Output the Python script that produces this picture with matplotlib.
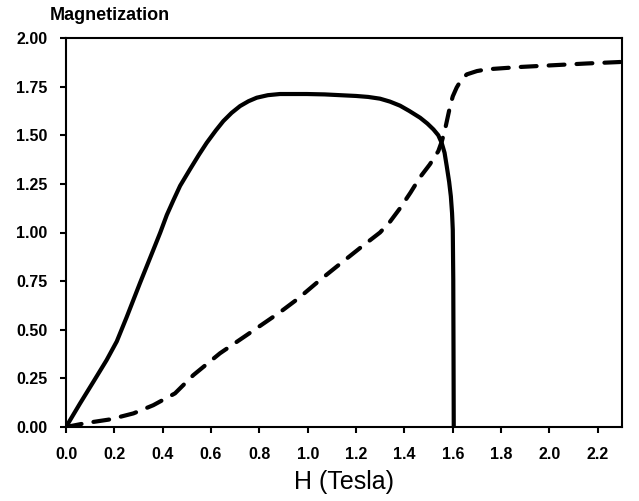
import matplotlib
matplotlib.use("Agg")
import matplotlib.pyplot as plt
import numpy as np

plt.rcParams['font.family'] = ['Liberation Sans', 'DejaVu Sans']

# solid curve
h_solid = [0, 0.058, 0.113, 0.168, 0.21, 0.251, 0.306, 0.361, 0.39, 0.417,
           0.444, 0.472, 0.513, 0.55, 0.582, 0.62, 0.651, 0.685, 0.72, 0.755,
           0.789, 0.835, 0.885, 0.996, 1.07, 1.134, 1.2, 1.25, 1.299, 1.34,
           1.382, 1.42, 1.465, 1.495, 1.52, 1.54, 1.554, 1.566, 1.575, 1.585,
           1.592, 1.597, 1.6, 1.602, 1.603, 1.604]
m_solid = [0, 0.121, 0.232, 0.344, 0.44, 0.565, 0.74, 0.91, 1.0, 1.09,
           1.165, 1.24, 1.325, 1.40, 1.461, 1.525, 1.573, 1.615, 1.65, 1.675,
           1.693, 1.706, 1.712, 1.712, 1.71, 1.706, 1.702, 1.697, 1.688, 1.673,
           1.652, 1.625, 1.59, 1.56, 1.53, 1.50, 1.461, 1.41, 1.341, 1.26,
           1.186, 1.10, 1.014, 0.757, 0.4, 0.0]

# dashed curve
h_dash = [0, 0.086, 0.182, 0.279, 0.361, 0.451, 0.527, 0.637, 0.748, 0.885,
          0.96, 1.05, 1.13, 1.216, 1.299, 1.34, 1.382, 1.425, 1.465, 1.505,
          1.54, 1.555, 1.568, 1.589, 1.60, 1.616, 1.635, 1.658, 1.70, 1.741,
          1.878, 2.016, 2.154, 2.3]
m_dash = [0, 0.021, 0.039, 0.07, 0.112, 0.173, 0.267, 0.379, 0.473, 0.59,
          0.66, 0.755, 0.835, 0.92, 1.0, 1.055, 1.125, 1.205, 1.285, 1.35,
          1.418, 1.47, 1.53, 1.65, 1.70, 1.745, 1.785, 1.813, 1.83, 1.839,
          1.851, 1.86, 1.869, 1.877]

x_ticks = [0.0, 0.2, 0.4, 0.6, 0.8, 1.0, 1.2, 1.4, 1.6, 1.8, 2.0, 2.2]
y_ticks = [0.0, 0.25, 0.5, 0.75, 1.0, 1.25, 1.5, 1.75, 2.0]

fig = plt.figure(figsize=(6.39, 5.01), dpi=100)
ax = fig.add_axes([66 / 639, 1 - 427 / 501, 556 / 639, 389 / 501])

ax.plot(h_solid, m_solid, color="black", linewidth=3,
        solid_capstyle="round", solid_joinstyle="round")
ax.plot(h_dash, m_dash, color="black", linewidth=3,
        dashes=(3.8, 2.9), dash_capstyle="round", dash_joinstyle="round")

ax.set_xlim(0, 2.3)
ax.set_ylim(0, 2.0)
ax.set_xticks(x_ticks)
ax.set_yticks(y_ticks)
ax.set_xticklabels(["%.1f" % v for v in x_ticks])
ax.set_yticklabels(["%.2f" % v for v in y_ticks])

for s in ax.spines.values():
    s.set_linewidth(1.5)
ax.tick_params(direction="out", length=4.3, width=1.5, labelsize=11.5,
               top=False, right=False)
ax.tick_params(axis="x", pad=10)
ax.tick_params(axis="y", pad=9)
for lab in ax.get_xticklabels() + ax.get_yticklabels():
    lab.set_fontweight("bold")

ax.set_xlabel("H (Tesla)", fontsize=18, labelpad=6)
fig.text(50 / 639, 1 - 19.5 / 501, "Magnetization", fontsize=13,
         fontweight="bold", va="baseline", ha="left")

fig.savefig("out.png", dpi=100)
